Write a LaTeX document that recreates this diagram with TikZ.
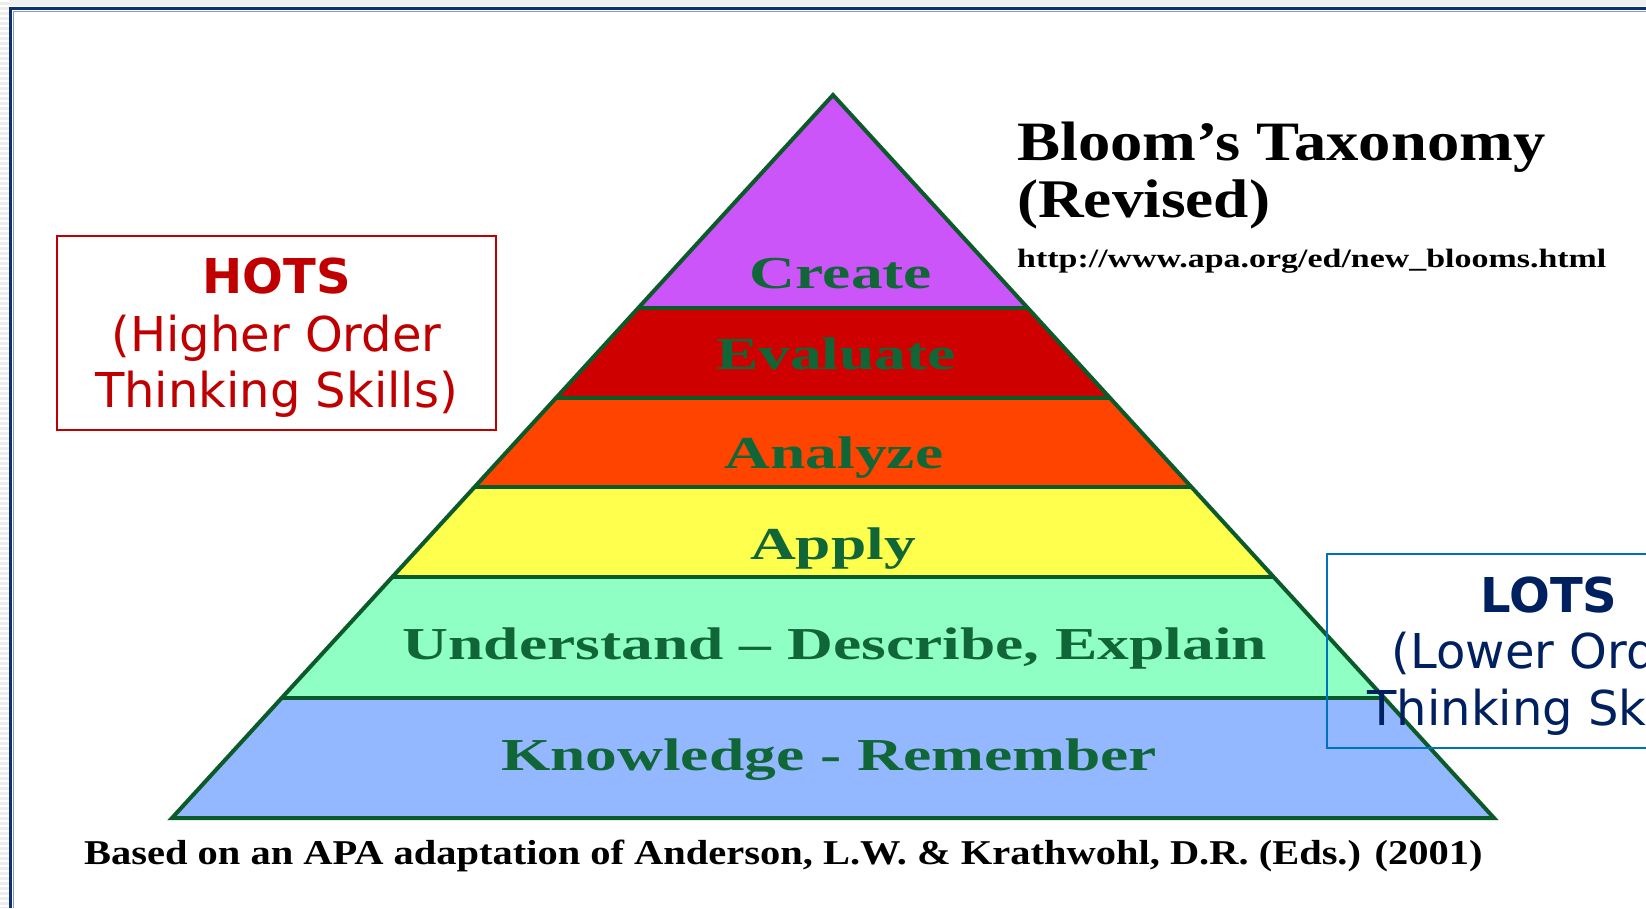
\documentclass[tikz,border=0pt]{standalone}
\usepackage{fontspec}
\usepackage{graphicx}
\setmainfont{Liberation Serif}
\newfontfamily\verd{DejaVu Sans}
\definecolor{pgreen}{HTML}{0B5A2A}
\definecolor{tgreen}{HTML}{116637}
\definecolor{cCreate}{HTML}{CC55FA}
\definecolor{cEval}{HTML}{CF0000}
\definecolor{cAnal}{HTML}{FF4400}
\definecolor{cApply}{HTML}{FFFF4D}
\definecolor{cUnder}{HTML}{8FFFC3}
\definecolor{cKnow}{HTML}{94B8FF}
\definecolor{hred}{HTML}{C00000}
\definecolor{lnavy}{HTML}{002060}
\definecolor{lblue}{HTML}{0070C0}
\definecolor{fnavy}{HTML}{0F2F6E}
\definecolor{flight}{HTML}{7F9BCF}
\begin{document}
\begin{tikzpicture}[x=1pt,y=-1pt,
  pline/.style={draw=pgreen,line width=4pt},
  lbl/.style={inner sep=0pt,anchor=base,text=tgreen,font=\bfseries\fontsize{63.5}{63.5}\selectfont},
  serifnote/.style={inner sep=0pt,anchor=base west,text=black,font=\bfseries},
  hotstxt/.style={inner sep=0pt,anchor=base,text=hred,font=\verd\fontsize{48}{48}\selectfont},
  lotstxt/.style={inner sep=0pt,anchor=base,text=lnavy,font=\verd\fontsize{48}{48}\selectfont},
  sidebox/.style={draw,line width=2pt,minimum width=439pt,minimum height=194pt,inner sep=0pt}]
\useasboundingbox (0,0) rectangle (1646,908);
\clip (0,0) rectangle (1646,908);
\fill[white] (0,0) rectangle (1646,908);
% page frame
\fill[gray!12] (0,0) rectangle (1646,6);
\fill[gray!14] (0,0) rectangle (10,908);
\foreach \yy in {0,5,...,905} \fill[white] (0,\yy) rectangle (10,\yy+2);
\draw[flight,line width=1pt] (13,908) -- (13,11) -- (1646,11);
\draw[fnavy,line width=2.5pt] (10.5,908) -- (10.5,8.5) -- (1646,8.5);
% pyramid
\begin{scope}
  \clip (833,95) -- (1494,818) -- (172,818) -- cycle;
  \fill[cCreate] (0,0) rectangle (1646,308);
  \fill[cEval] (0,308) rectangle (1646,398);
  \fill[cAnal] (0,398) rectangle (1646,487);
  \fill[cApply] (0,487) rectangle (1646,577);
  \fill[cUnder] (0,577) rectangle (1646,698);
  \fill[cKnow] (0,698) rectangle (1646,818);
  \foreach \yy in {308,398,487,577,698} \draw[pline] (0,\yy) -- (1646,\yy);
\end{scope}
\draw[pline,line join=miter] (833,95) -- (1494,818) -- (172,818) -- cycle;
% level labels
\node[lbl] (create) at (841,288) {\scalebox{1}[0.72]{Create}};
\node[lbl] (evaluate) at (836,369) {\scalebox{1}[0.72]{Evaluate}};
\node[lbl] (analyze) at (834,468) {\scalebox{1}[0.72]{Analyze}};
\node[lbl] (apply) at (833,559) {\scalebox{1}[0.72]{Apply}};
\node[lbl] (understand) at (835,659) {\scalebox{1}[0.72]{Understand \textendash\ Describe, Explain}};
\node[lbl] (knowledge) at (829,770) {\scalebox{1}[0.72]{Knowledge - Remember}};
% title and notes
\node[serifnote] (title1) at (1017,160) {\resizebox{528pt}{!}{\scalebox{1}[0.86]{Bloom's Taxonomy}}};
\node[serifnote] (title2) at (1017,217) {\resizebox{253pt}{!}{\scalebox{1}[0.86]{(Revised)}}};
\node[serifnote] (url) at (1017,267) {\resizebox{589pt}{!}{\scalebox{1}[0.78]{http://www.apa.org/ed/new\_blooms.html}}};
\node[serifnote] (source) at (84,864) {\resizebox{1398pt}{!}{\scalebox{1}[0.86]{Based on an APA adaptation of Anderson, L.W. \& Krathwohl, D.R. (Eds.) (2001)}}};
% HOTS box
\node[sidebox,draw=hred] (hotsbox) at (276.5,333) {};
\node[hotstxt,font=\verd\bfseries\fontsize{48}{48}\selectfont] (hots1) at (276.5,293) {HOTS};
\node[hotstxt] (hots2) at (276.5,351) {(Higher Order};
\node[hotstxt] (hots3) at (276.5,407) {Thinking Skills)};
% LOTS box
\node[sidebox,draw=lblue] (lotsbox) at (1546.5,650.5) {};
\node[lotstxt,font=\verd\bfseries\fontsize{48}{48}\selectfont] (lots1) at (1549,612) {LOTS};
\node[lotstxt] (lots2) at (1549,668) {(Lower Order};
\node[lotstxt] (lots3) at (1549,725) {Thinking Skills)};
\end{tikzpicture}
\end{document}
